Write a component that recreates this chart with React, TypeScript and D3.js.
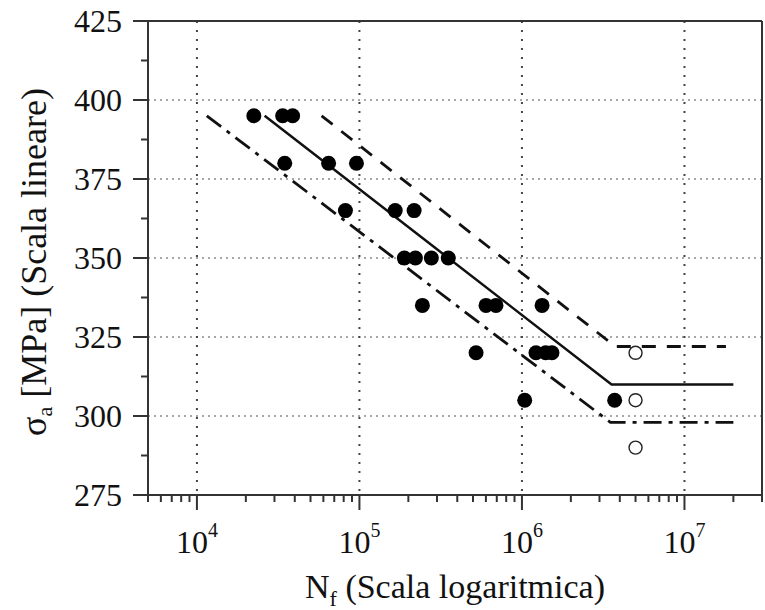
import React from "react";
import * as d3 from "d3";

// Failures (filled circles)
const failCycles = [
  22400, 33700, 38800,
  34700, 64600, 95900,
  82000, 166000, 217000,
  189000, 221000, 277000, 352000,
  244000, 601000, 692000, 1330000,
  522000, 1220000, 1400000, 1530000,
  1040000, 3720000,
];
const failStress = [
  395, 395, 395,
  380, 380, 380,
  365, 365, 365,
  350, 350, 350, 350,
  335, 335, 335, 335,
  320, 320, 320, 320,
  305, 305,
];
// Run-outs (open circles)
const runoutCycles = [5000000, 5000000, 5000000];
const runoutStress = [320, 305, 290];

// S-N curves
const meanN = [26100, 3560000, 20000000];
const meanS = [395, 310, 310];
const upperN = [58500, 3750000, 18000000];
const upperS = [395, 322, 322];
const lowerN = [11500, 3500000, 20000000];
const lowerS = [395, 298, 298];

const yTicks = [275, 300, 325, 350, 375, 400, 425];
const yMinorTicks = [287.5, 312.5, 337.5, 362.5, 387.5, 412.5];
const xDecades = [4, 5, 6, 7];

const W = 765;
const H = 610;
const L = 148, R = 762, T = 21, B = 495;

const FONT = "Liberation Serif, Times New Roman, DejaVu Serif, serif";

export default function App() {
  const x = d3.scaleLog().domain([5000, 30000000]).range([L, R]);
  const y = d3.scaleLinear().domain([275, 425]).range([B, T]);

  const xMinor: number[] = [];
  for (let d = 3; d <= 7; d++) {
    for (let k = 2; k <= 9; k++) {
      const v = k * Math.pow(10, d);
      if (v >= 5000 && v <= 30000000) xMinor.push(v);
    }
  }

  const line = (ns: number[], ss: number[]) =>
    d3.line<number>()
      .x((_, i) => x(ns[i]))
      .y((_, i) => y(ss[i]))(ns.map((_, i) => i)) || "";

  const ts = { fontFamily: FONT };

  return (
    <svg
      width={W}
      height={H}
      style={{ position: "absolute", left: 0, top: 0, background: "#fff", fontFamily: FONT }}
    >
      <rect x={0} y={0} width={W} height={H} fill="#fff" />
      {/* grid */}
      {yTicks.filter((t) => t > 275 && t < 425).map((t) => (
        <line key={"gy" + t} x1={L} x2={R} y1={y(t)} y2={y(t)}
          stroke="#8a8a8a" strokeWidth={1.5} strokeDasharray="2,4" />
      ))}
      {xDecades.map((d) => (
        <line key={"gx" + d} x1={x(Math.pow(10, d))} x2={x(Math.pow(10, d))} y1={T} y2={B}
          stroke="#444" strokeWidth={2} strokeDasharray="2,7" />
      ))}

      {/* curves */}
      <path d={line(meanN, meanS)} fill="none" stroke="#111" strokeWidth={2.5} />
      <path d={line(upperN, upperS)} fill="none" stroke="#111" strokeWidth={2.8} strokeDasharray="14,11" />
      <path d={line(lowerN, lowerS)} fill="none" stroke="#111" strokeWidth={2.8} strokeDasharray="18,7,4,7" />

      {/* points */}
      {failCycles.map((n, i) => (
        <circle key={"f" + i} cx={x(n)} cy={y(failStress[i])} r={7.5} fill="#000" />
      ))}
      {runoutCycles.map((n, i) => (
        <circle key={"r" + i} cx={x(n)} cy={y(runoutStress[i])} r={6.5} fill="#fff" stroke="#222" strokeWidth={1.4} />
      ))}

      {/* frame */}
      <line x1={L} x2={R} y1={T} y2={T} stroke="#333" strokeWidth={2} />
      <line x1={R} x2={R} y1={T} y2={B} stroke="#333" strokeWidth={2} />
      <line x1={L} x2={L} y1={T} y2={B} stroke="#333" strokeWidth={2} />
      <line x1={L} x2={R} y1={B} y2={B} stroke="#333" strokeWidth={2} />

      {/* y ticks */}
      {yTicks.map((t) => (
        <g key={"yt" + t}>
          <line x1={L - 15} x2={L} y1={y(t)} y2={y(t)} stroke="#333" strokeWidth={2} />
          <text style={ts} x={122} y={y(t) + 11} textAnchor="end" fontSize={32} fill="#111">{t}</text>
        </g>
      ))}
      {yMinorTicks.map((t) => (
        <line key={"ym" + t} x1={L - 7} x2={L} y1={y(t)} y2={y(t)} stroke="#333" strokeWidth={2} />
      ))}

      {/* x ticks */}
      {xMinor.map((v) => (
        <line key={"xm" + v} x1={x(v)} x2={x(v)} y1={B} y2={B + 7} stroke="#333" strokeWidth={2} />
      ))}
      {xDecades.map((d) => (
        <g key={"xt" + d}>
          <line x1={x(Math.pow(10, d))} x2={x(Math.pow(10, d))} y1={B} y2={B + 15} stroke="#333" strokeWidth={2} />
          <text style={ts} x={x(Math.pow(10, d))} y={553} textAnchor="middle" fontSize={32} fill="#111">
            10<tspan fontSize={20} dy={-16}>{d}</tspan>
          </text>
        </g>
      ))}

      {/* axis titles */}
      <text style={ts} x={(L + R) / 2} y={598} textAnchor="middle" fontSize={34} fill="#111">
        N<tspan fontSize={22} dy={8}>f</tspan><tspan dy={-8}> (Scala logaritmica)</tspan>
      </text>
      <text style={ts} transform={`translate(46, 262) rotate(-90)`} textAnchor="middle" fontSize={36} fill="#111">
        σ<tspan fontSize={22} dy={6}>a</tspan><tspan dy={-6}> [MPa] (Scala lineare)</tspan>
      </text>
    </svg>
  );
}
